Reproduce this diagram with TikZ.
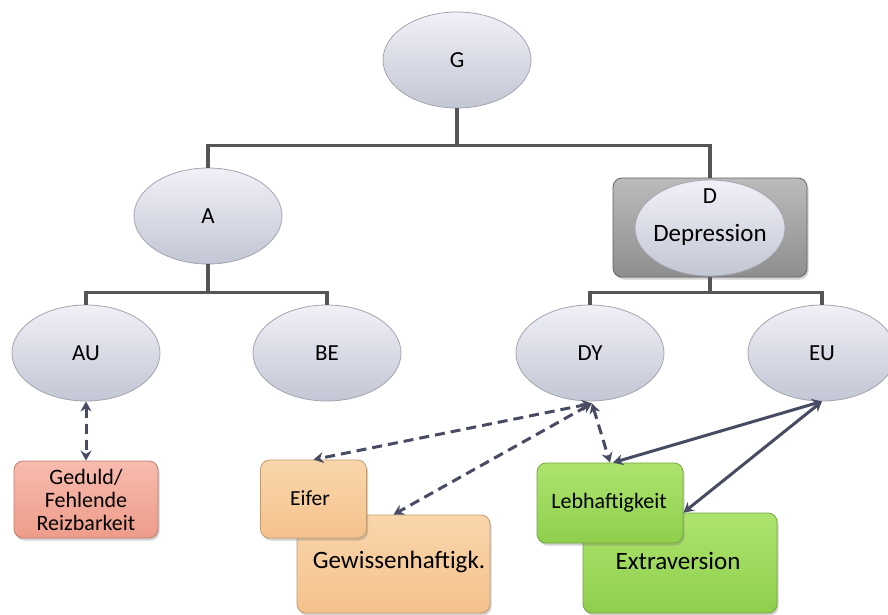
\documentclass[tikz,border=0pt]{standalone}
\usepackage{fontspec}
\setmainfont{Carlito}
\usetikzlibrary{shapes.geometric,arrows.meta,shadows,calc}

\definecolor{bubtop}{HTML}{F0F0F7}
\definecolor{bubbot}{HTML}{C3C6D4}
\definecolor{bubline}{HTML}{A3A5AE}
\definecolor{treeline}{HTML}{555555}
\definecolor{arrowcol}{HTML}{474C62}
\definecolor{pinktop}{HTML}{F7BBAE}
\definecolor{pinkbot}{HTML}{EE9C8A}
\definecolor{peachtop}{HTML}{FAD6AC}
\definecolor{peachbot}{HTML}{F4C28C}
\definecolor{greentop}{HTML}{ADE46E}
\definecolor{greenbot}{HTML}{8FCF4C}
\definecolor{graytop}{HTML}{BBBBBB}
\definecolor{graybot}{HTML}{8E8E8E}

\tikzset{
  bub/.style={ellipse, draw=bubline, line width=0.8pt, top color=bubtop, bottom color=bubbot,
    minimum width=148pt, minimum height=96pt, inner sep=0pt, font=\fontsize{23}{27}\selectfont},
  card/.style={rounded corners=9pt, line width=0.8pt, inner sep=0pt,
    drop shadow={shadow xshift=1.5pt, shadow yshift=-2.5pt, opacity=0.35}},
  pinkcard/.style={card, draw=pinkbot!80!black, top color=pinktop, bottom color=pinkbot},
  peachcard/.style={card, draw=peachbot!80!black, top color=peachtop, bottom color=peachbot},
  greencard/.style={card, draw=greenbot!80!black, top color=greentop, bottom color=greenbot},
  graycard/.style={card, draw=graybot!70!black, top color=graytop, bottom color=graybot},
  tree/.style={draw=treeline, line width=3.2pt},
  link/.style={draw=arrowcol, line width=3pt, {Stealth[length=10pt,width=11pt]}-{Stealth[length=10pt,width=11pt]}},
  dlink/.style={link, dash pattern=on 10pt off 6pt},
  lbl/.style={inner sep=0pt, align=center}
}

\begin{document}
\begin{tikzpicture}[x=1pt,y=-1pt]
\useasboundingbox (0,0) rectangle (888,614);
\fill[white] (0,0) rectangle (888,614);

% top of the hierarchy
\node[bub] (G) at (457,60) {G};
\node[bub] (A) at (208,216) {A};
\node[graycard, minimum width=194pt, minimum height=99pt] (Dbox) at (710,227.5) {};
\node[bub, minimum width=150pt] (D) at (710,228) {};
\node[lbl, font=\fontsize{23}{27}\selectfont] (Dname) at ($(D.center)+(0,-32)$) {D};
\node[lbl, font=\fontsize{25}{29}\selectfont] (Dlong) at ($(D.center)+(0,7)$) {Depression};

% second level
\node[bub] (AU) at (86,353) {AU};
\node[bub] (BE) at (327,353) {BE};
\node[bub] (DY) at (590,353) {DY};
\node[bub] (EU) at (822,353) {EU};

% tree connectors
\draw[tree] (G.south) -- ++(0,37) coordinate (gj) -| (A.north);
\draw[tree] (gj) -| (Dbox.north);
\draw[tree] (A.south) -- ++(0,28) coordinate (aj) -| (AU.north);
\draw[tree] (aj) -| (BE.north);
\draw[tree] (Dbox.south) -- ++(0,15) coordinate (dj) -| (DY.north);
\draw[tree] (dj) -| (EU.north);

% facet boxes
\node[pinkcard, minimum width=144pt, minimum height=77pt] (Ged) at (86,499.5) {};
\node[lbl, font=\fontsize{22}{23}\selectfont] (Gedtxt) at (Ged.center) {Geduld/\\Fehlende\\Reizbarkeit};

\node[peachcard, minimum width=193pt, minimum height=98pt] (Gew) at (393.5,564) {};
\node[lbl, font=\fontsize{25}{29}\selectfont] (Gewtxt) at (399,562) {Gewissenhaftigk.};
\node[peachcard, minimum width=106pt, minimum height=78pt] (Eif) at (313.5,499) {};
\node[lbl, font=\fontsize{21.5}{25}\selectfont] (Eiftxt) at (310,498) {Eifer};

\node[greencard, minimum width=194pt, minimum height=100pt] (Ext) at (680,563) {};
\node[lbl, font=\fontsize{25}{29}\selectfont] (Exttxt) at (678,561) {Extraversion};
\node[greencard, minimum width=146pt, minimum height=80pt] (Leb) at (610,503) {};
\node[lbl, font=\fontsize{22}{26}\selectfont] (Lebtxt) at (609,503) {Lebhaftigkeit};

% relations
\draw[dlink] (AU.south) -- (Ged.north);
\coordinate (dyfoot) at ($(DY.south)+(2,2)$);
\draw[dlink] (dyfoot) -- (Eif.north);
\draw[dlink] (dyfoot) -- (Gew.north);
\draw[dlink] (dyfoot) -- (Leb.north);
\draw[link] (EU.south) -- ($(Leb.north)+(3,0)$);
\draw[link] (EU.south) -- (Ext.north -| Leb.east);
\end{tikzpicture}
\end{document}
